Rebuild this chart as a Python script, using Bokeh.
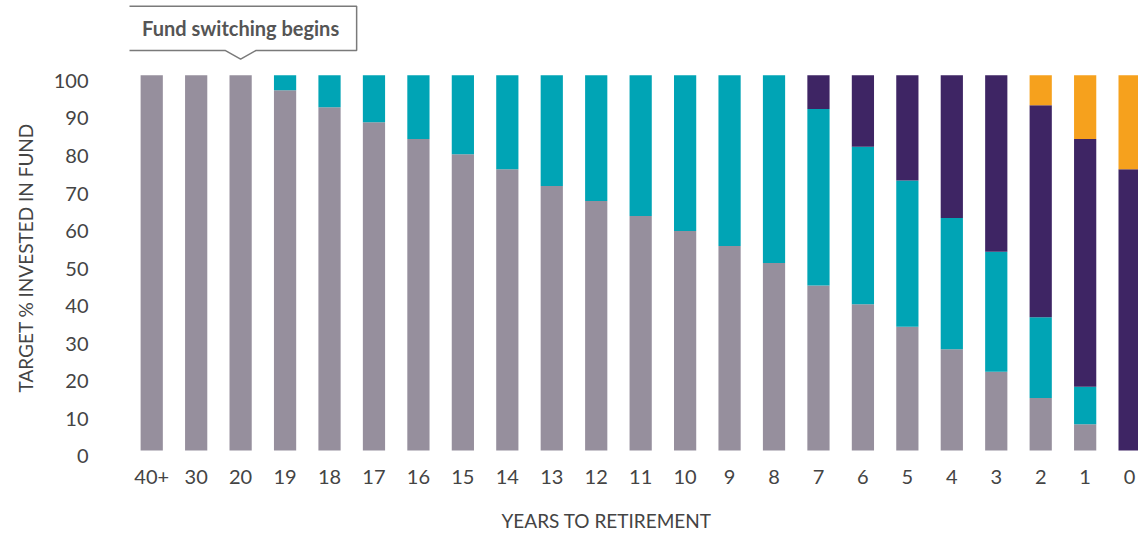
from bokeh.plotting import figure
from bokeh.models import ColumnDataSource, Range1d, LinearAxis, FixedTicker, Label, Title
from bokeh.embed import file_html
from bokeh.resources import INLINE

categories = ["40+", "30", "20", "19", "18", "17", "16", "15", "14", "13", "12",
              "11", "10", "9", "8", "7", "6", "5", "4", "3", "2", "1", "0"]
fund_grey = [100, 100, 100, 96, 91.5, 87.5, 83, 79, 75, 70.5, 66.5,
             62.5, 58.5, 54.5, 50, 44, 39, 33, 27, 21, 14, 7, 0]
fund_teal = [0, 0, 0, 4, 8.5, 12.5, 17, 21, 25, 29.5, 33.5,
             37.5, 41.5, 45.5, 50, 47, 42, 39, 35, 32, 21.5, 10, 0]
fund_purple = [0, 0, 0, 0, 0, 0, 0, 0, 0, 0, 0,
               0, 0, 0, 0, 9, 19, 28, 38, 47, 56.5, 66, 75]
fund_orange = [0, 0, 0, 0, 0, 0, 0, 0, 0, 0, 0,
               0, 0, 0, 0, 0, 0, 0, 0, 0, 8, 17, 25]
y_ticks = [0, 10, 20, 30, 40, 50, 60, 70, 80, 90, 100]
x_title = "YEARS TO RETIREMENT"
y_title = "TARGET % INVESTED IN FUND"
annotation_text = "Fund switching begins"
annotation_anchor = "20"

FONT = "Lato"
TXT = "#444444"
colors = ["#968f9d", "#00a4b5", "#3e2564", "#f6a11d"]
names = ["grey", "teal", "purple", "orange"]

xs = list(range(len(categories)))
src = ColumnDataSource(dict(x=xs, grey=fund_grey, teal=fund_teal,
                            purple=fund_purple, orange=fund_orange))

p = figure(width=1138, height=533, x_range=Range1d(-0.5, 22.2),
           y_range=Range1d(-2.13, 119.95), output_backend="svg",
           toolbar_location=None, y_axis_location=None,
           min_border_left=129, min_border_right=0, min_border_top=0,
           min_border_bottom=74)
p.outline_line_color = None
p.xgrid.visible = False
p.ygrid.visible = False
p.background_fill_color = "white"
p.border_fill_color = "white"

p.vbar_stack(names, x="x", width=0.5, fill_color=colors, line_color=None,
             source=src)

xa = p.xaxis[0]
xa.ticker = FixedTicker(ticks=xs)
xa.major_label_overrides = {i: c for i, c in enumerate(categories)}
xa.axis_line_color = None
xa.major_tick_line_color = None
xa.minor_tick_line_color = None
xa.major_tick_out = 0
xa.major_tick_in = 0
xa.major_label_text_font = FONT
xa.major_label_text_font_size = "20px"
xa.major_label_text_color = TXT
xa.major_label_standoff = 11
# thin spacer between tick labels and the axis title
xa.axis_label = " "
xa.axis_label_text_font_size = "4px"
xa.axis_label_standoff = 10

p.extra_y_ranges = {"lab": Range1d(-0.63, 121.45)}
ya = LinearAxis(y_range_name="lab", ticker=FixedTicker(ticks=y_ticks))
ya.axis_line_color = None
ya.major_tick_line_color = None
ya.minor_tick_line_color = None
ya.major_tick_out = 0
ya.major_tick_in = 0
ya.major_label_text_font = FONT
ya.major_label_text_font_size = "20px"
ya.major_label_text_color = TXT
ya.major_label_standoff = 41
p.add_layout(ya, "left")

# axis titles
p.add_layout(Title(text=x_title, align="left", offset=372, standoff=4,
                   text_font=FONT, text_font_size="19px", text_font_style="normal",
                   text_color=TXT), "below")
p.add_layout(Title(text=y_title, align="left", offset=66, standoff=24,
                   vertical_align="top",
                   text_font=FONT, text_font_size="19px", text_font_style="normal",
                   text_color=TXT), "left")

# callout box
a = categories.index(annotation_anchor)
bx0, bx1, by0, by1 = a - 2.54, a + 2.61, 106.6, 118.4
hw, tip = 0.34, 104.3
p.patch([bx0, bx1, bx1, a + hw, a, a - hw, bx0],
        [by1, by1, by0, by0, tip, by0, by0],
        fill_color="white", line_color="#7a7a7a", line_width=1.5)
p.add_layout(Label(x=a, y=112.5, text=annotation_text, text_font=FONT,
                   text_font_size="20px", text_font_style="bold", text_color="#555555",
                   text_align="center", text_baseline="middle"))

open("out.html", "w").write(file_html(p, INLINE))
